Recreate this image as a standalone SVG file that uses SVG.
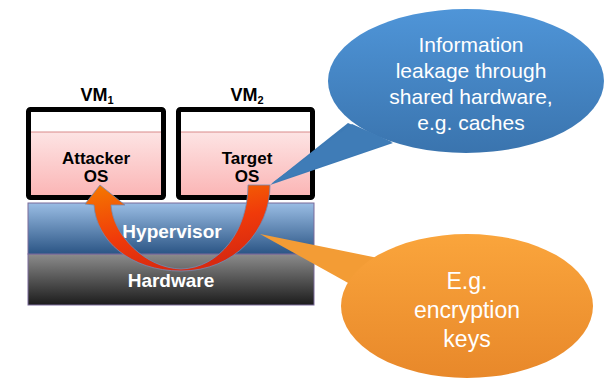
<svg xmlns="http://www.w3.org/2000/svg" width="606" height="379" viewBox="0 0 606 379">
<defs>
<linearGradient id="pink" x1="0" y1="0" x2="0" y2="1"><stop offset="0" stop-color="#fde4e4"/><stop offset="1" stop-color="#fbb6b6"/></linearGradient>
<linearGradient id="hyp" x1="0" y1="0" x2="0" y2="1"><stop offset="0" stop-color="#9abde4"/><stop offset="1" stop-color="#2b5585"/></linearGradient>
<linearGradient id="hw" x1="0" y1="0" x2="0" y2="1"><stop offset="0" stop-color="#8c8c8c"/><stop offset="1" stop-color="#1c1c1c"/></linearGradient>
<linearGradient id="arrow" x1="0" y1="0" x2="0.4" y2="1"><stop offset="0" stop-color="#f57a00"/><stop offset="0.6" stop-color="#f03a0a"/><stop offset="1" stop-color="#d82a10"/></linearGradient>
<linearGradient id="blue" x1="0" y1="0" x2="0" y2="1"><stop offset="0" stop-color="#4f95d8"/><stop offset="1" stop-color="#3a74ae"/></linearGradient>
<linearGradient id="orange" x1="0" y1="0" x2="0" y2="1"><stop offset="0" stop-color="#faa53c"/><stop offset="1" stop-color="#e8882a"/></linearGradient>
</defs>
<style>
.vm{fill:#fff;stroke:#000;stroke-width:5}
.lbl{font-family:"Liberation Sans",Arial,sans-serif;font-weight:bold;text-anchor:middle}
.call{font-family:"Liberation Sans",Arial,sans-serif;fill:#fff;text-anchor:middle}
</style>
<g id="hardware">
<rect x="28" y="254" width="286" height="51" fill="url(#hw)" stroke="#7a6a9a" stroke-width="1"/>
<text class="lbl" x="171" y="287" font-size="19" fill="#fff">Hardware</text>
</g>
<g id="hypervisor">
<rect x="28" y="203" width="286" height="51" fill="url(#hyp)" stroke="#7a6a9a" stroke-width="1"/>
<text class="lbl" x="172" y="238" font-size="19" fill="#fff">Hypervisor</text>
</g>
<g id="vm1">
<rect class="vm" x="28.5" y="109.5" width="135" height="88" rx="2"/>
<rect x="31" y="132" width="130" height="63" fill="url(#pink)"/>
<line x1="31" y1="132" x2="161" y2="132" stroke="#d98a8a" stroke-width="1"/>
<text class="lbl" x="97" y="101" font-size="18">VM<tspan font-size="11" dy="3">1</tspan></text>
<text class="lbl" x="96" y="164" font-size="17">Attacker</text>
<text class="lbl" x="96" y="182" font-size="17">OS</text>
</g>
<g id="vm2">
<rect class="vm" x="178.5" y="109.5" width="134" height="88" rx="2"/>
<rect x="181" y="132" width="129" height="63" fill="url(#pink)"/>
<line x1="181" y1="132" x2="310" y2="132" stroke="#d98a8a" stroke-width="1"/>
<text class="lbl" x="247" y="101" font-size="18">VM<tspan font-size="11" dy="3">2</tspan></text>
<text class="lbl" x="247" y="164" font-size="17">Target</text>
<text class="lbl" x="247" y="182" font-size="17">OS</text>
</g>
<g id="connectors">
<path d="M248,185 L270,185 C270,230 235,271 181,271 C130,271 96,240 94,205 L85,204 L100,185 L125,205 L111,205 C113,235 145,268 181,269 C220,268 248,230 248,185 Z" fill="url(#arrow)" stroke="#6e8cb8" stroke-width="0.8"/>
</g>
<g id="callout-leak">
<path d="M270,185 L348,123 L393,143 Z" fill="#3d7ab5"/>
<ellipse cx="466" cy="81" rx="138" ry="72" fill="url(#blue)"/>
<path d="M272,183 L352,124 L392,142 Z" fill="#3f7cb7"/>
<text class="call" x="471" y="52" font-size="21">Information</text>
<text class="call" x="471" y="78" font-size="21">leakage through</text>
<text class="call" x="471" y="104" font-size="21">shared hardware,</text>
<text class="call" x="471" y="130" font-size="21">e.g. caches</text>
</g>
<g id="callout-keys">
<path d="M260,234 L378,258 L350,284 Z" fill="#f39c35"/>
<ellipse cx="467" cy="306" rx="126" ry="72" fill="url(#orange)"/>
<text class="call" x="467" y="289" font-size="23">E.g.</text>
<text class="call" x="467" y="318" font-size="23">encryption</text>
<text class="call" x="467" y="347" font-size="23">keys</text>
</g>
</svg>
